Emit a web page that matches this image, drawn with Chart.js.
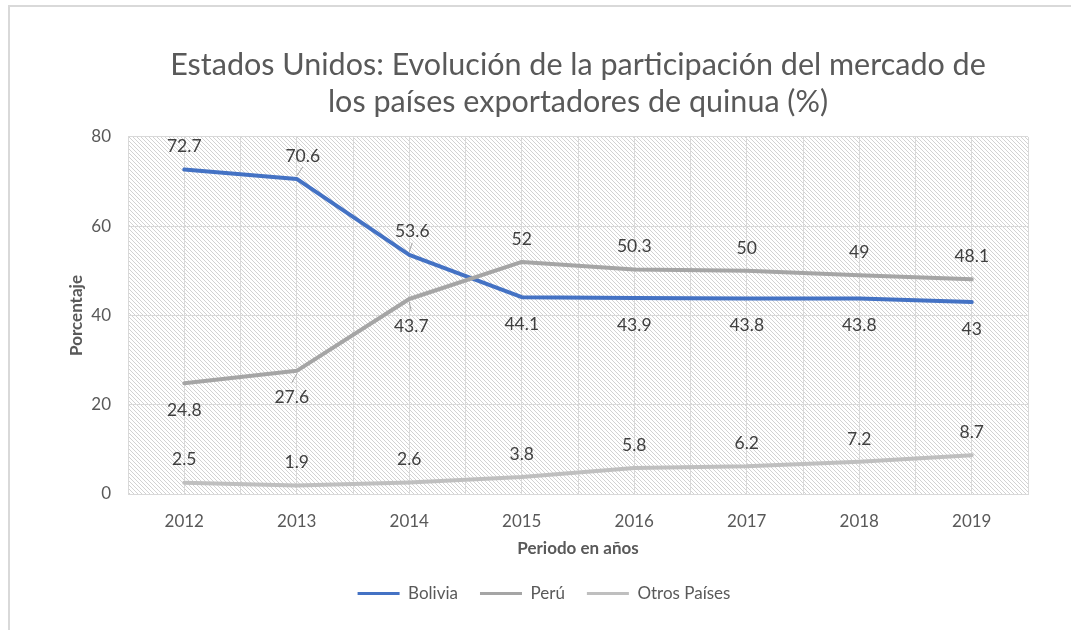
<!DOCTYPE html>
<html lang="es">
<head>
<meta charset="utf-8">
<title>Estados Unidos: participación del mercado de quinua</title>
<script src="https://cdn.jsdelivr.net/npm/chart.js@4.4.1/dist/chart.umd.min.js"></script>
<style>
  html, body { margin: 0; padding: 0; background: #fff; overflow: hidden; }
  #marco { position: absolute; left: 8px; top: 5px; width: 1100px; height: 700px;
           border: 2px solid #d9d9d9; box-sizing: border-box; }
  #grafico { position: absolute; left: 0; top: 0; }
</style>
</head>
<body>
<div id="marco"></div>
<canvas id="grafico" width="1071" height="630"></canvas>
<script>
// ── Datos ──
const anios = ['2012', '2013', '2014', '2015', '2016', '2017', '2018', '2019'];
const bolivia = [72.7, 70.6, 53.6, 44.1, 43.9, 43.8, 43.8, 43];
const peru = [24.8, 27.6, 43.7, 52, 50.3, 50, 49, 48.1];
const otrosPaises = [2.5, 1.9, 2.6, 3.8, 5.8, 6.2, 7.2, 8.7];
const ticksY = [0, 20, 40, 60, 80];

const FUENTE = 'Lato';
const GRIS_TEXTO = '#595959';
const GRIS_REJILLA = '#d9d9d9';

// ── Fondo rayado del área de trazado ──
function crearRayado() {
  const c = document.createElement('canvas');
  c.width = 4; c.height = 4;
  const g = c.getContext('2d');
  g.fillStyle = '#d2d2d2';
  for (let i = 0; i < 4; i++) g.fillRect(i, i, 1, 1);
  return c;
}

const fondoPlugin = {
  id: 'fondo',
  beforeDraw(chart) {
    const { ctx, chartArea: a } = chart;
    ctx.save();
    ctx.fillStyle = ctx.createPattern(crearRayado(), 'repeat');
    ctx.fillRect(a.left, a.top, a.right - a.left, a.bottom - a.top);
    ctx.restore();
  }
};

// ── Etiquetas de datos (y líneas guía) ──
const etiquetasPlugin = {
  id: 'etiquetas',
  afterDatasetsDraw(chart) {
    const { ctx } = chart;
    ctx.save();
    ctx.font = '17.5px ' + FUENTE;
    ctx.fillStyle = '#404040';
    ctx.textAlign = 'center';
    ctx.textBaseline = 'middle';
    chart.data.datasets.forEach((ds, i) => {
      const meta = chart.getDatasetMeta(i);
      meta.data.forEach((pt, j) => {
        const arriba = ds.etiquetaArriba(j);
        const guia = ds.guias ? ds.guias[j] : null;
        if (guia !== null && guia !== undefined) {
          const s = arriba ? -1 : 1;
          ctx.strokeStyle = '#a6a6a6';
          ctx.lineWidth = 1;
          ctx.beginPath();
          ctx.moveTo(pt.x, pt.y + s * 3);
          ctx.lineTo(pt.x + guia, pt.y + s * 12);
          ctx.stroke();
        }
        const y = pt.y + (arriba ? -23 : 27);
        ctx.fillText(String(ds.data[j]), pt.x + (guia ? guia : 0), y);
      });
    });
    ctx.restore();
  }
};

function dibujar() {
  new Chart(document.getElementById('grafico'), {
    type: 'line',
    data: {
      labels: anios,
      datasets: [
        {
          label: 'Bolivia', data: bolivia, borderColor: '#4472c4', order: 1,
          etiquetaArriba: j => j < 3, guias: [null, 6, 3]
        },
        {
          label: 'Perú', data: peru, borderColor: '#a5a5a5', order: 0,
          etiquetaArriba: j => j >= 3, guias: [null, -5, 2]
        },
        {
          label: 'Otros Países', data: otrosPaises, borderColor: '#bfbfbf', order: 2,
          etiquetaArriba: () => true
        }
      ]
    },
    options: {
      responsive: false,
      animation: false,
      devicePixelRatio: 1,
      layout: { padding: { left: 60, right: 43, top: 0, bottom: 18 } },
      elements: {
        line: { borderWidth: 4, tension: 0, borderJoinStyle: 'round', borderCapStyle: 'round', fill: false },
        // el grosor del borde del punto se usa para la muestra de la leyenda
        point: { radius: 0, hoverRadius: 0, borderWidth: 3 }
      },
      scales: {
        x: {
          type: 'category',
          offset: true,
          grid: { offset: true, color: GRIS_REJILLA, drawTicks: false },
          border: { color: GRIS_REJILLA, width: 1 },
          ticks: { color: GRIS_TEXTO, padding: 17, font: { family: FUENTE, size: 17 } },
          title: {
            display: true, text: 'Periodo en años', color: GRIS_TEXTO,
            font: { family: FUENTE, size: 17, weight: 'bold' }, padding: { top: 0, bottom: 4 }
          },
          afterFit(s) { s.height = 69; }
        },
        xc: {
          type: 'category',
          position: 'bottom',
          offset: true,
          grid: { offset: false, color: GRIS_REJILLA, drawTicks: false },
          border: { display: false },
          ticks: { display: false },
          afterFit(s) { s.height = 0; }
        },
        y: {
          min: 0, max: 80,
          afterBuildTicks(s) { s.ticks = ticksY.map(v => ({ value: v })); },
          grid: { color: GRIS_REJILLA, drawTicks: false },
          border: { display: false },
          ticks: { color: GRIS_TEXTO, padding: 17, font: { family: FUENTE, size: 17 } },
          title: {
            display: true, text: 'Porcentaje', color: GRIS_TEXTO,
            font: { family: FUENTE, size: 17, weight: 'bold' }, padding: { top: 6, bottom: 0 }
          },
          afterFit(s) { s.width = 68; }
        }
      },
      plugins: {
        title: {
          display: true,
          fullSize: false,
          text: ['Estados Unidos: Evolución de la participación del mercado de',
                 'los países exportadores de quinua (%)'],
          color: GRIS_TEXTO,
          font: { family: FUENTE, size: 30.5, weight: 'normal', lineHeight: 1.213 },
          padding: { top: 47, bottom: 16 }
        },
        legend: {
          position: 'bottom',
          labels: {
            usePointStyle: true,
            pointStyle: 'line',
            pointStyleWidth: 42,
            padding: 22,
            color: GRIS_TEXTO,
            font: { family: FUENTE, size: 17 },
            sort: (a, b) => a.datasetIndex - b.datasetIndex
          }
        },
        tooltip: { enabled: false }
      }
    },
    plugins: [fondoPlugin, etiquetasPlugin]
  });
}

if (document.fonts && document.fonts.load) {
  document.fonts.load('16px ' + FUENTE).then(dibujar, dibujar);
} else {
  dibujar();
}
</script>
</body>
</html>
